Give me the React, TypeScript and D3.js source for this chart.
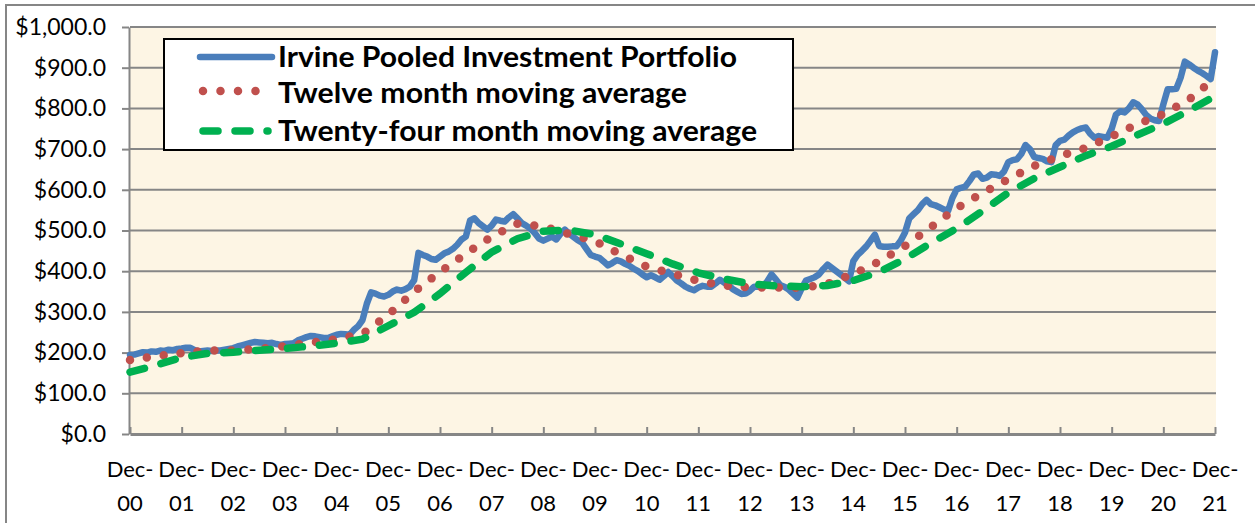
import React, { useEffect, useRef } from 'react';
import * as d3 from 'd3';

// x axis: one tick per December, Dec-00 .. Dec-21
const yearLabels = ['00', '01', '02', '03', '04', '05', '06', '07', '08', '09', '10',
    '11', '12', '13', '14', '15', '16', '17', '18', '19', '20', '21'];

// monthly portfolio value ($ millions), Dec-00 .. Dec-21
const portfolio = [
    194, 195, 198, 201, 200, 203, 202, 205, 204, 207, 206, 209,
    210, 212, 212, 206, 203, 204, 205, 204, 205, 205, 207, 209,
    211, 215, 218, 221, 224, 226, 225, 224, 223, 224, 221, 219,
    221, 222, 223, 230, 234, 238, 241, 240, 238, 236, 236, 240,
    244, 246, 245, 244, 256, 265, 280, 320, 348, 345, 340, 338,
    342, 350, 355, 352, 356, 362, 378, 445, 440, 436, 430, 428,
    436, 444, 448, 455, 465, 478, 485, 525, 530, 518, 510, 502,
    512, 527, 524, 522, 532, 540, 530, 518, 512, 505, 494, 480,
    475, 480, 485, 478, 492, 502, 492, 484, 476, 470, 455, 440,
    436, 433, 424, 414, 420, 427, 424, 418, 413, 406, 400, 392,
    385, 390, 385, 379, 388, 398, 388, 377, 370, 362, 357, 353,
    360, 364, 362, 362, 370, 379, 372, 366, 356, 350, 344, 345,
    352, 362, 362, 363, 375, 392, 380, 366, 362, 355, 345, 335,
    358, 377, 381, 385, 392, 405, 416, 408, 400, 392, 384, 375,
    425, 440, 450, 461, 475, 490, 462, 460, 460, 461, 461, 475,
    495, 530, 540, 550, 565, 575, 565, 562, 557, 552, 548, 580,
    601, 605, 608, 622, 638, 640, 627, 630, 638, 637, 634, 645,
    668, 673, 675, 688, 710, 700, 681, 678, 676, 670, 668, 710,
    720, 723, 733, 741, 747, 751, 753, 738, 728, 732, 730, 728,
    750, 785, 793, 790, 800, 815, 810, 798, 784, 775, 771, 769,
    810, 847, 847, 848, 875, 915, 908, 900, 893, 887, 880, 872,
    938
];

// moving averages, read every six months from Dec-00
const avgStep = 6;
const twelveMonthAvg = [
    182, 191, 199, 205, 205, 209, 216, 224, 233, 246, 293, 350, 398, 443, 485,
    517, 510, 491, 474, 441, 411, 394, 376, 365, 360, 360, 359, 369, 393, 424,
    462, 508, 555, 592, 626, 659, 683, 703, 731, 762, 786, 822, 874
];
const twentyFourMonthAvg = [
    152, 169, 188, 198, 201, 206, 210, 216, 223, 233, 266, 299, 345, 397, 447,
    480, 498, 501, 490, 467, 443, 418, 396, 381, 369, 364, 362, 365, 377, 398,
    430, 469, 505, 548, 593, 628, 656, 684, 707, 735, 762, 795, 830
];

const seriesNames = [
    'Irvine Pooled Investment Portfolio',
    'Twelve month moving average',
    'Twenty-four month moving average'
];

const FONT = 'Lato, "Open Sans", sans-serif';
const GRID = '#868686';

function App() {
    const ref = useRef<SVGSVGElement>(null);

    useEffect(() => {
        document.body.style.margin = '0';
        const svg = d3.select(ref.current);
        svg.selectAll('*').remove();

        const x = d3.scaleLinear().domain([0, portfolio.length - 1]).range([130, 1215]);
        const y = d3.scaleLinear().domain([0, 1000]).range([434, 27]);

        // outer chart frame (runs off the right and bottom)
        svg.append('rect')
            .attr('x', 6).attr('y', 5)
            .attr('width', 1400).attr('height', 700)
            .attr('fill', '#fff')
            .attr('stroke', GRID)
            .attr('stroke-width', 2);

        // parchment background
        const defs = svg.append('defs');
        const filter = defs.append('filter').attr('id', 'paper')
            .attr('x', 0).attr('y', 0).attr('width', '100%').attr('height', '100%');
        filter.append('feTurbulence')
            .attr('type', 'fractalNoise')
            .attr('baseFrequency', '0.015 0.025')
            .attr('numOctaves', 4)
            .attr('seed', 7);
        filter.append('feColorMatrix')
            .attr('type', 'matrix')
            .attr('values', '0 0 0 0 0.97  0 0 0 0 0.91  0 0 0 0 0.78  0 0 0 0.5 -0.2');

        svg.append('rect')
            .attr('x', 130).attr('y', 27)
            .attr('width', 1086).attr('height', 407)
            .attr('fill', '#fdf5e4');
        svg.append('rect')
            .attr('x', 130).attr('y', 27)
            .attr('width', 1086).attr('height', 407)
            .attr('fill', '#000')
            .attr('filter', 'url(#paper)');

        // gridlines
        svg.append('g')
            .selectAll('line')
            .data(y.ticks(10).filter((d) => d > 0))
            .join('line')
            .attr('x1', 130).attr('x2', 1216)
            .attr('y1', (d) => y(d)).attr('y2', (d) => y(d))
            .attr('stroke', GRID)
            .attr('stroke-width', 2);

        // y axis
        const yAxis = svg.append('g')
            .attr('transform', 'translate(129,0)')
            .call(d3.axisLeft(y).ticks(10).tickFormat(d3.format('$,.1f')).tickSize(7).tickSizeOuter(0).tickPadding(16));
        yAxis.selectAll('path, line').attr('stroke', GRID).attr('stroke-width', 2);
        yAxis.selectAll('text')
            .attr('fill', '#000')
            .style('font-family', FONT)
            .style('font-size', '23px');

        // x axis, ticks pointing into the plot
        const xAxis = svg.append('g')
            .attr('transform', 'translate(0,434)')
            .call(d3.axisBottom(x).tickValues(d3.range(0, portfolio.length, 12)).tickSize(-7).tickSizeOuter(0).tickFormat(() => ''));
        xAxis.select('.domain').attr('stroke', GRID).attr('stroke-width', 3);
        xAxis.selectAll('line').attr('stroke', GRID).attr('stroke-width', 2);

        const xLabels = svg.append('g')
            .style('font-family', FONT)
            .style('font-size', '22px')
            .attr('text-anchor', 'middle');
        yearLabels.forEach((yr, i) => {
            const t = xLabels.append('text').attr('x', x(i * 12));
            t.append('tspan').attr('x', x(i * 12)).attr('y', 477).text('Dec-');
            t.append('tspan').attr('x', x(i * 12)).attr('y', 511).text(yr);
        });

        // series
        const line = d3.line<number>()
            .x((d, i) => x(i))
            .y((d) => y(d));
        const avgLine = d3.line<number>()
            .x((d, i) => x(i * avgStep))
            .y((d) => y(d));

        svg.append('path')
            .datum(portfolio)
            .attr('fill', 'none')
            .attr('stroke', '#4a7ebb')
            .attr('stroke-width', 6.5)
            .attr('stroke-linejoin', 'round')
            .attr('stroke-linecap', 'round')
            .attr('d', line);

        svg.append('path')
            .datum(twelveMonthAvg)
            .attr('fill', 'none')
            .attr('stroke', '#c0504d')
            .attr('stroke-width', 8.5)
            .attr('stroke-linecap', 'round')
            .attr('stroke-dasharray', '0 17')
            .attr('d', avgLine);

        svg.append('path')
            .datum(twentyFourMonthAvg)
            .attr('fill', 'none')
            .attr('stroke', '#00b050')
            .attr('stroke-width', 7.5)
            .attr('stroke-linecap', 'round')
            .attr('stroke-dasharray', '15 17')
            .attr('d', avgLine);

        // legend
        const legend = svg.append('g');
        legend.append('rect')
            .attr('x', 164).attr('y', 39)
            .attr('width', 629).attr('height', 111)
            .attr('fill', '#fff')
            .attr('stroke', '#000')
            .attr('stroke-width', 2);

        const rows = [57, 91, 131];
        const textWidths = [459, 409, 479];
        const styles = [
            {stroke: '#4a7ebb', width: 6.5, dash: null, x1: 200, x2: 272},
            {stroke: '#c0504d', width: 8.5, dash: '0 17.5', x1: 203, x2: 258},
            {stroke: '#00b050', width: 7.5, dash: '15 17', x1: 203, x2: 268}
        ];
        seriesNames.forEach((name, i) => {
            const s = styles[i];
            legend.append('line')
                .attr('x1', s.x1).attr('x2', s.x2)
                .attr('y1', rows[i]).attr('y2', rows[i])
                .attr('stroke', s.stroke)
                .attr('stroke-width', s.width)
                .attr('stroke-linecap', 'round')
                .attr('stroke-dasharray', s.dash);
            legend.append('text')
                .attr('x', 278)
                .attr('y', rows[i] + (i === 1 ? 12 : 10))
                .attr('textLength', textWidths[i])
                .attr('lengthAdjust', 'spacingAndGlyphs')
                .style('font-family', FONT)
                .style('font-weight', 'bold')
                .style('font-size', '28px')
                .text(name);
        });
    }, []);

    return (
        <svg ref={ref} width={1255} height={523} style={{display: 'block'}} />
    );
}

export default App;
